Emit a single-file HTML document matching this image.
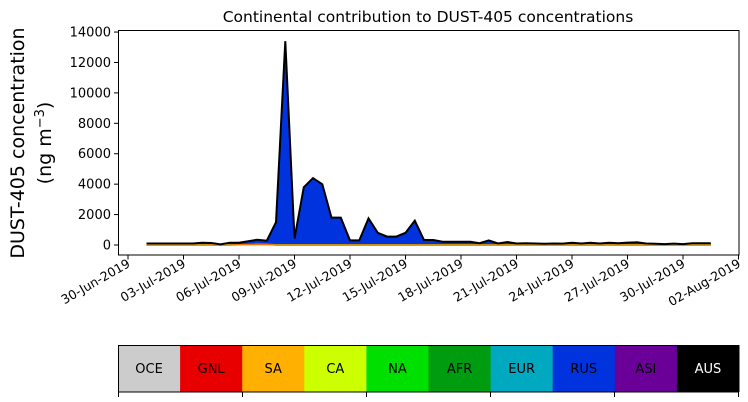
<!DOCTYPE html>
<html><head><meta charset="utf-8"><style>
body{margin:0;background:#fff;}
svg{display:block;font-family:"DejaVu Sans","Liberation Sans",sans-serif;}
</style></head><body>
<svg id="s" width="748" height="402" xmlns="http://www.w3.org/2000/svg">
<text x="428" y="22" font-size="15.5" text-anchor="middle">Continental contribution to DUST-405 concentrations</text>
<g id="plot"></g>
<rect x="118.5" y="30.5" width="620.5" height="224.5" fill="none" stroke="#000" stroke-width="1"/>
<g font-size="13" text-anchor="end" id="yt"></g>
<g font-size="12.5" id="xt"></g>
<text transform="translate(24,143) rotate(-90)" font-size="19" text-anchor="middle">DUST-405 concentration</text>
<text transform="translate(51,143) rotate(-90)" font-size="19" text-anchor="middle">(ng m<tspan dy="-7" font-size="13">−3</tspan><tspan dy="7">)</tspan></text>
<g id="cb"></g>
</svg>
<script>
const NS="http://www.w3.org/2000/svg";
function el(t,a,p,txt){const e=document.createElementNS(NS,t);for(const k in a)e.setAttribute(k,a[k]);if(txt!==undefined)e.textContent=txt;(p||document.getElementById('s')).appendChild(e);return e;}
const Y=v=>245-v*0.01521;
const vals=[100,100,100,100,100,100,150,130,40,150,150,250,350,280,1500,13400,420,3800,4400,4000,1800,1800,300,300,1750,800,550,550,800,1600,330,330,220,220,220,220,120,300,100,200,100,120,100,80,100,90,150,100,150,100,150,110,160,180,100,80,60,90,60,110,110,110];
const X=i=>146.5+9.25*i;
const plot=document.getElementById('plot');
let pts=vals.map((v,i)=>X(i).toFixed(1)+','+Y(v).toFixed(1));
el('polygon',{points:X(0)+','+Y(0)+' '+pts.join(' ')+' '+X(vals.length-1)+','+Y(0),fill:'#0033dd'},plot);
let g=vals.map((v,i)=>X(i).toFixed(1)+','+Y(Math.min(v*0.4,i>8&&i<14?150:60)).toFixed(1));
el('polygon',{points:X(0)+','+Y(0)+' '+g.join(' ')+' '+X(vals.length-1)+','+Y(0),fill:'#00dd00'},plot);
el('polyline',{points:vals.map((v,i)=>X(i).toFixed(1)+','+Y(i>9&&i<14?v*0.12:0).toFixed(1)).join(' '),fill:'none',stroke:'#e00000','stroke-width':1.5},plot);
el('polyline',{points:vals.map((v,i)=>X(i).toFixed(1)+','+Y(5).toFixed(1)).join(' '),fill:'none',stroke:'#ffb000','stroke-width':1},plot);
el('polyline',{points:pts.join(' '),fill:'none',stroke:'#000','stroke-width':2,'stroke-linejoin':'miter'},plot);
const yt=document.getElementById('yt');
for(let v=0;v<=14000;v+=2000){const y=Y(v);el('line',{x1:114,x2:118.5,y1:y,y2:y,stroke:'#000'},yt);el('text',{x:111,y:y+4.5},yt,String(v));}
const xt=document.getElementById('xt');
const labs=['30-Jun-2019','03-Jul-2019','06-Jul-2019','09-Jul-2019','12-Jul-2019','15-Jul-2019','18-Jul-2019','21-Jul-2019','24-Jul-2019','27-Jul-2019','30-Jul-2019','02-Aug-2019'];
labs.forEach((l,i)=>{const x=128+55.5*i;el('line',{x1:x,x2:x,y1:255,y2:259.5,stroke:'#000'},xt);el('text',{transform:`translate(${x+3},${266}) rotate(-30)`,'text-anchor':'end'},xt,l);});
const cb=document.getElementById('cb');
const cols=['#cccccc','#e80000','#ffb000','#ccff00','#00e000','#009c10','#00a8c0','#0033dd','#6a0098','#000000'];
const names=['OCE','GNL','SA','CA','NA','AFR','EUR','RUS','ASI','AUS'];
const w=(739-118)/10;
cols.forEach((c,i)=>{el('rect',{x:118+w*i,y:345,width:w+0.5,height:47,fill:c},cb);el('text',{x:118+w*i+w/2,y:373,'text-anchor':'middle','font-size':13,fill:i==9?'#fff':'#000'},cb,names[i]);});
el('rect',{x:118.5,y:345.5,width:620,height:46.5,fill:'none',stroke:'#000'},cb);
for(let i=0;i<=5;i++){const x=118.5+124*i;el('line',{x1:x,x2:x,y1:392,y2:397,stroke:'#000'},cb);}
</script>
</body></html>
